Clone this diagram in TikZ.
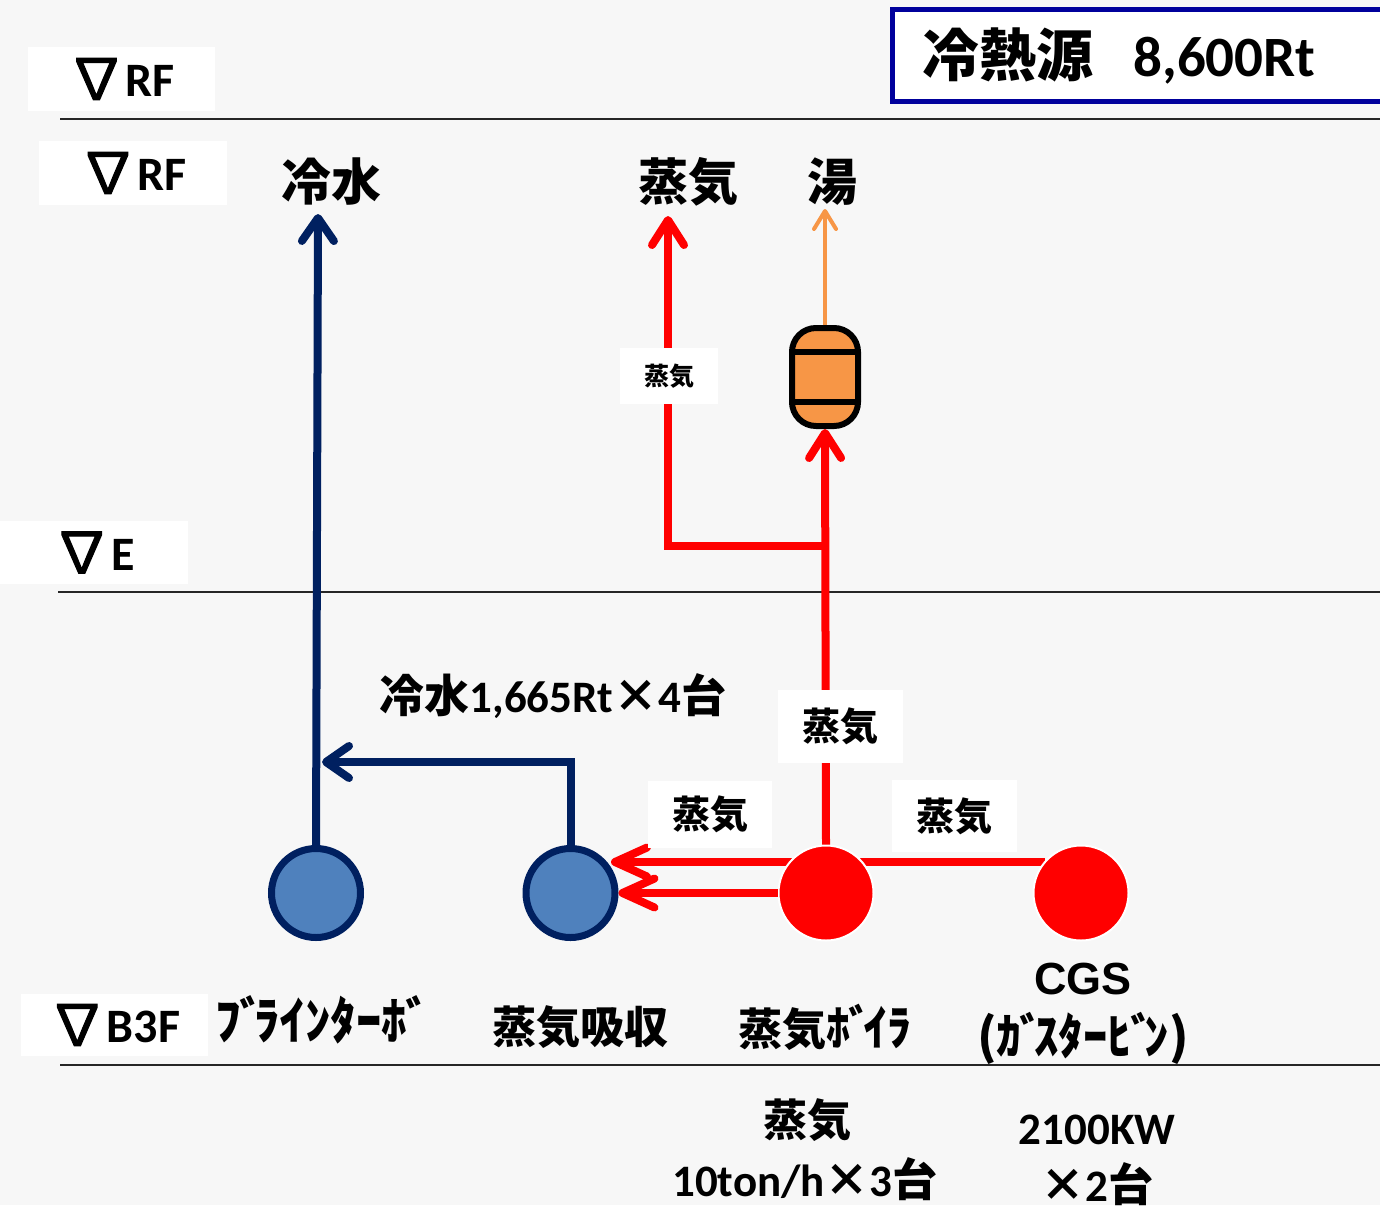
\documentclass[tikz,border=0pt]{standalone}
\usepackage{fontspec}
\setmainfont{Carlito}
\newfontfamily\jp{Noto Sans CJK JP}
\newfontfamily\nabf{Noto Sans CJK JP}[FakeBold=2]
\newfontfamily\arl{Liberation Sans}
\usetikzlibrary{arrows.meta}
\definecolor{bg}{HTML}{F7F7F7}
\definecolor{navy}{HTML}{002060}
\definecolor{cblue}{HTML}{4F81BD}
\definecolor{sred}{HTML}{FF0000}
\definecolor{tank}{HTML}{F79646}
\definecolor{titleb}{HTML}{00009C}
\newcommand\fsz[1]{\fontsize{#1pt}{#1pt}\selectfont}
\newcommand\J[1]{{\jp #1}}
\newcommand\Nb{\raisebox{-2pt}{\nabf\mdseries\fsz{57}∇}\kern1pt}
\newcommand\dk{\kern-0.04em ﾞ\kern-0.2em}
\tikzset{
  floorline/.style={draw=black!85, line width=1.8pt},
  lvl/.style={fill=white, inner sep=0pt, font=\fsz{48}\bfseries},
  lbl/.style={fill=white, inner sep=0pt, font=\jp\bfseries},
  txt/.style={inner sep=0pt, font=\bfseries},
  bcirc/.style={circle, draw=navy, fill=cblue, line width=7pt, minimum size=89pt, inner sep=0pt},
  rcirc/.style={circle, draw=white, fill=sred, line width=2pt, minimum size=95pt, inner sep=0pt},
  tankbox/.style={draw=black, fill=tank, line width=6pt, rounded corners=24pt, minimum width=66pt, minimum height=98pt, inner sep=0pt},
  navyarr/.style={draw=navy, line width=8pt, line join=miter, -{Straight Barb[length=23pt,width=32pt,line cap=round,line join=round]}},
  redarr/.style={draw=sred, line width=8pt, line join=miter, -{Straight Barb[length=25pt,width=32pt,line cap=round,line join=round]}},
  redarrB/.style={draw=sred, line width=8pt, -{Straight Barb[length=32pt,width=29pt,line cap=round,line join=round]}},
  orarr/.style={draw=tank, line width=4pt, -{Straight Barb[length=18pt,width=22pt,line cap=round,line join=round]}},
}
\begin{document}
\begin{tikzpicture}[x=1pt,y=-1pt]
\useasboundingbox (0,0) rectangle (1380,1205);
\fill[bg] (0,0) rectangle (1380,1205);

% floor lines
\draw[floorline] (60,119) -- (1380,119);
\draw[floorline] (58,592) -- (1380,592);
\draw[floorline] (60,1065) -- (1380,1065);

% level labels
\node[lvl, minimum width=187pt, minimum height=64pt] (lv1) at (121.5,79) {\Nb RF};
\node[lvl, minimum width=188pt, minimum height=64pt] (lv2) at (133,173) {\Nb RF};
\node[lvl, minimum width=188pt, minimum height=63pt] (lv3) at (94,552.5) {\Nb E};
\node[lvl, minimum width=187pt, minimum height=62pt] (lv4) at (114.5,1025) {\Nb B3F};

% title
\draw[titleb, line width=5pt, fill=white] (892,9) rectangle (1400,101);
\node[txt, font=\fsz{57}\bfseries] (title) at (1119,56) {\J{冷熱源}\hspace{0.7em}8,600Rt};

% upper steam line to absorber (behind boiler)
\coordinate (cgsL) at (1045,862);
\coordinate (abU) at (611,862);
\draw[redarrB] (cgsL) -- (abU);

% equipment
\node[bcirc] (brine) at (316,893) {};
\node[bcirc] (absorb) at (570.5,893) {};
\node[rcirc] (boiler) at (826,893) {};
\node[rcirc] (cgs) at (1081,893) {};
\node[tankbox] (tankn) at (825,377) {};
\draw[black, line width=6pt] (tankn.west |- 0,352) -- (tankn.east |- 0,352);
\draw[black, line width=6pt] (tankn.west |- 0,402) -- (tankn.east |- 0,402);

% chilled water
\coordinate (cwtip) at (318,214);
\coordinate (cwjoin) at (322,762);
\draw[navyarr] (brine.north) -- (cwtip);
\draw[navyarr] (absorb.north) |- (cwjoin);

% steam
\coordinate (stj) at (826,546);
\coordinate (sttip) at (668,216);
\coordinate (yutip) at (825,209);
\draw[redarr] (boiler.north) -- (tankn.south);
\draw[redarr] (stj) -| (sttip);
\draw[redarrB] (boiler.west) -- (absorb.east);
\draw[orarr] (tankn.north) -- (yutip);

% white label boxes
\node[lbl, minimum width=125pt, minimum height=73pt, font=\jp\bfseries\fsz{38}] (sl1) at (840.5,726.5) {蒸気};
\node[lbl, minimum width=124pt, minimum height=67pt, font=\jp\bfseries\fsz{38}] (sl2) at (710,814.5) {蒸気};
\node[lbl, minimum width=125pt, minimum height=72pt, font=\jp\bfseries\fsz{38}] (sl3) at (954.5,816) {蒸気};
\node[lbl, minimum width=98pt, minimum height=56pt, font=\jp\bfseries\fsz{25}] (sl4) at (669,376) {蒸気};

% top labels
\node[txt, font=\jp\bfseries\fsz{50}] (tcw) at (331,182) {冷水};
\node[txt, font=\jp\bfseries\fsz{50}] (tst) at (688,182) {蒸気};
\node[txt, font=\jp\bfseries\fsz{50}] (tyu) at (832,182) {湯};

% capacity label
\node[txt, font=\bfseries\fsz{45}] (tcap) at (553,696) {\J{冷水}1,665Rt\J{×}4\J{台}};

% equipment names
\node[txt, font=\jp\bfseries\fsz{51}] (nbr) at (318,1020) {ﾌ\dk{}ﾗｲﾝﾀｰﾎ\dk{}};
\node[txt, font=\jp\bfseries\fsz{44}] (nab) at (580,1027) {蒸気吸収};
\node[txt, font=\jp\bfseries\fsz{44}] (nbo) at (825,1027) {蒸気{\fsz{48}ﾎ\dk{}ｲﾗ}};
\node[txt, font=\arl\bfseries\fsz{45}] (ncg1) at (1083,979) {CGS};
\node[txt, font=\jp\bfseries\fsz{49}] (ncg2) at (1083,1038) {(ｶ\dk{}ｽﾀｰﾋ\dk{}ﾝ)};

% specs
\node[txt, font=\jp\bfseries\fsz{44}] (sp1) at (807,1120) {蒸気};
\node[txt, font=\bfseries\fsz{45}] (sp2) at (805,1179) {10ton/h\J{×}3\J{台}};
\node[txt, font=\bfseries\fsz{45}] (sp3) at (1097,1130) {2100KW};
\node[txt, font=\bfseries\fsz{45}] (sp4) at (1097,1184) {\J{×}2\J{台}};
\end{tikzpicture}
\end{document}
